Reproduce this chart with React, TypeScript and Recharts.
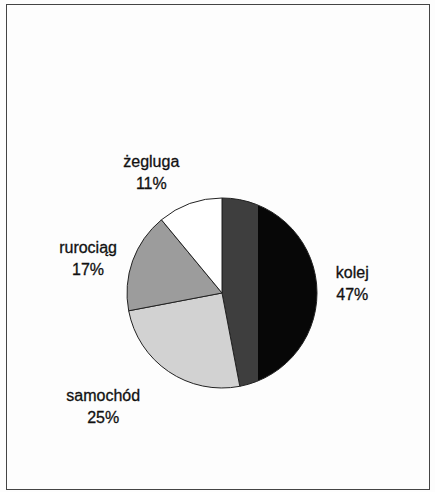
import { PieChart, Pie, Cell } from "recharts";

const categories = ["kolej", "samochód", "rurociąg", "żegluga"];
const shares = [47, 25, 17, 11];

const fills = ["url(#kolejFill)", "#d2d2d2", "#9c9c9c", "#ffffff"];
// hand placed labels, like in the original sheet
const labelNudge = [
  [-4, 3],
  [-43, 1],
  [-7, 11],
  [-25, 6],
];

const data = categories.map((name, i) => ({ name, value: shares[i] }));

const RADIAN = Math.PI / 180;

function renderLabel(props: any) {
  const { cx, cy, midAngle, outerRadius, index, name, value } = props;
  const r = outerRadius * 1.42;
  const x = cx + r * Math.cos(-midAngle * RADIAN) + labelNudge[index][0];
  const y = cy + r * Math.sin(-midAngle * RADIAN) + labelNudge[index][1];
  return (
    <text
      x={x}
      y={y}
      textAnchor="middle"
      fill="#111"
      fontSize={16}
      fontFamily="'Liberation Sans', Arial, sans-serif"
      stroke="#111"
      strokeWidth={0.3}
    >
      <tspan x={x} dy={-5}>
        {name}
      </tspan>
      <tspan x={x} dy={22}>
        {value}%
      </tspan>
    </text>
  );
}

export default function App() {
  return (
    <div
      style={{
        position: "absolute",
        left: 0,
        top: 0,
        width: 435,
        height: 492,
        background: "#fdfdfd",
      }}
    >
      <div
        style={{
          position: "absolute",
          left: 6,
          top: 4,
          width: 422,
          height: 484,
          border: "1.5px solid #444",
        }}
      />
      <PieChart width={435} height={492}>
        <defs>
          <linearGradient id="kolejFill" x1="0" y1="0" x2="1" y2="0">
            <stop offset="0" stopColor="#3e3e3e" />
            <stop offset="0.38" stopColor="#3e3e3e" />
            <stop offset="0.38" stopColor="#070707" />
            <stop offset="1" stopColor="#070707" />
          </linearGradient>
        </defs>
        <Pie
          data={data}
          dataKey="value"
          nameKey="name"
          cx={217}
          cy={288}
          outerRadius={95}
          startAngle={90}
          endAngle={-270}
          stroke="#222"
          strokeWidth={1}
          label={renderLabel}
          labelLine={false}
          isAnimationActive={false}
        >
          {data.map((d, i) => (
            <Cell key={d.name} fill={fills[i]} />
          ))}
        </Pie>
      </PieChart>
    </div>
  );
}
